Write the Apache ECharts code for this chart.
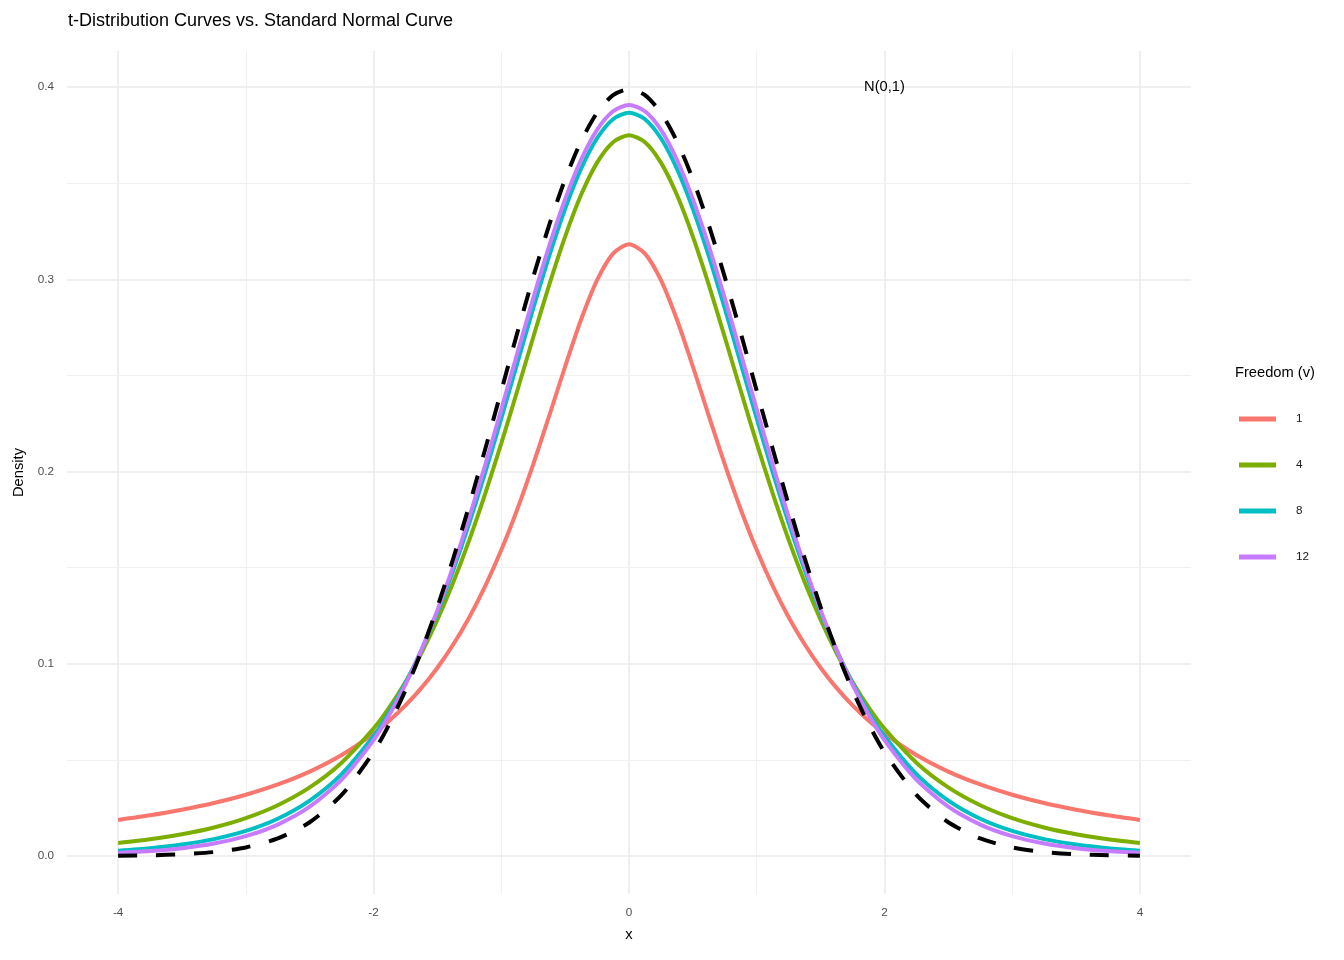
<!DOCTYPE html>
<html>
<head>
<meta charset="utf-8">
<script src="https://cdn.jsdelivr.net/npm/echarts@6/dist/echarts.min.js"></script>
<style>html,body{margin:0;padding:0;background:#fff;}#c{width:1344px;height:960px;}</style>
</head>
<body>
<div id="c"></div>
<script>
const xValues = [-4,-3.75,-3.5,-3.25,-3,-2.75,-2.5,-2.25,
  -2,-1.875,-1.75,-1.625,-1.5,-1.375,-1.25,-1.125,-1,-0.875,-0.75,-0.625,-0.5,-0.375,-0.25,-0.125,0,
  0.125,0.25,0.375,0.5,0.625,0.75,0.875,1,1.125,1.25,1.375,1.5,1.625,1.75,1.875,2,
  2.25,2.5,2.75,3,3.25,3.5,3.75,4];
const dens1 = [0.01872,0.02113,0.02402,0.02753,0.03183,0.03718,0.04390,0.05251,
  0.06366,0.07049,0.07835,0.08743,0.09794,0.11012,0.12422,0.14049,0.15915,0.18028,0.20372,0.22890,0.25465,0.27907,0.29959,0.31341,0.31831,
  0.31341,0.29959,0.27907,0.25465,0.22890,0.20372,0.18028,0.15915,0.14049,0.12422,0.11012,0.09794,0.08743,0.07835,0.07049,0.06366,
  0.05251,0.04390,0.03718,0.03183,0.02753,0.02402,0.02113,0.01872];
const dens4 = [0.00671,0.00865,0.01128,0.01483,0.01969,0.02640,0.03567,0.04853,
  0.06629,0.07749,0.09052,0.10560,0.12288,0.14249,0.16444,0.18861,0.21466,0.24204,0.26989,0.29707,0.32226,0.34397,0.36074,0.37136,0.37500,
  0.37136,0.36074,0.34397,0.32226,0.29707,0.26989,0.24204,0.21466,0.18861,0.16444,0.14249,0.12288,0.10560,0.09052,0.07749,0.06629,
  0.04853,0.03567,0.02640,0.01969,0.01483,0.01128,0.00865,0.00671];
const dens8 = [0.00276,0.00402,0.00592,0.00876,0.01301,0.01936,0.02878,0.04257,
  0.06237,0.07507,0.08994,0.10713,0.12677,0.14886,0.17326,0.19968,0.22761,0.25630,0.28483,0.31204,0.33670,0.35754,0.37339,0.38332,0.38670,
  0.38332,0.37339,0.35754,0.33670,0.31204,0.28483,0.25630,0.22761,0.19968,0.17326,0.14886,0.12677,0.10713,0.08994,0.07507,0.06237,
  0.04257,0.02878,0.01936,0.01301,0.00876,0.00592,0.00402,0.00276];
const dens12 = [0.00159,0.00253,0.00404,0.00645,0.01028,0.01631,0.02561,0.03965,
  0.06023,0.07355,0.08917,0.10725,0.12787,0.15096,0.17634,0.20362,0.23223,0.26139,0.29011,0.31728,0.34172,0.36223,0.37776,0.38744,0.39073,
  0.38744,0.37776,0.36223,0.34172,0.31728,0.29011,0.26139,0.23223,0.20362,0.17634,0.15096,0.12787,0.10725,0.08917,0.07355,0.06023,
  0.03965,0.02561,0.01631,0.01028,0.00645,0.00404,0.00253,0.00159];
const densNormal = [0.00013,0.00035,0.00087,0.00203,0.00443,0.00909,0.01753,0.03174,
  0.05399,0.06879,0.08628,0.10654,0.12952,0.15501,0.18265,0.21188,0.24197,0.27205,0.30114,0.32816,0.35207,0.37186,0.38667,0.39584,0.39894,
  0.39584,0.38667,0.37186,0.35207,0.32816,0.30114,0.27205,0.24197,0.21188,0.18265,0.15501,0.12952,0.10654,0.08628,0.06879,0.05399,
  0.03174,0.01753,0.00909,0.00443,0.00203,0.00087,0.00035,0.00013];
const seriesNames = ['1','4','8','12'];
const xTicks = [-4,-2,0,2,4];
const xMinorTicks = [-3,-1,1,3];
const yTicks = [0,0.1,0.2,0.3,0.4];
const yMinorTicks = [0.05,0.15,0.25,0.35];
const annotation = {text:'N(0,1)', x:2, y:0.4};

const colors = ['#F8766D','#7CAE00','#00BFC4','#C77CFF'];
const FONT = 'Liberation Sans, Arial, sans-serif';
const pair = ys => xValues.map((x,i)=>[x, ys[i]]);
const tSets = [dens1, dens4, dens8, dens12];

const chart = echarts.init(document.getElementById('c'));
const series = [
  {type:'line', data:[], silent:true, z:0,
   markLine:{silent:true, z:0, symbol:'none', label:{show:false}, animation:false,
     lineStyle:{color:'#EBEBEB', type:'solid', width:1.6},
     data: xTicks.map(v=>({xAxis:v})).concat(yTicks.map(v=>({yAxis:v})))}},
  {type:'line', data:[], silent:true, z:0,
   markLine:{silent:true, z:0, symbol:'none', label:{show:false}, animation:false,
     lineStyle:{color:'#F0F0F0', type:'solid', width:1},
     data: xMinorTicks.map(v=>({xAxis:v})).concat(yMinorTicks.map(v=>({yAxis:v})))}}
];
tSets.forEach((d,i)=>{
  series.push({name:seriesNames[i], type:'line', data:pair(d), smooth:0.25, showSymbol:false,
    lineStyle:{color:colors[i], width:4}, itemStyle:{color:colors[i]}, z:2+i});
});
series.push({name:'N(0,1)', type:'line', data:pair(densNormal), smooth:0.25, showSymbol:false,
  lineStyle:{color:'#000', width:4, type:[19,19], cap:'butt'}, itemStyle:{color:'#000'}, z:10,
  markPoint:{symbol:'circle', symbolSize:0, silent:true, animation:false, z:11,
    label:{show:true, position:'inside', formatter:annotation.text, color:'#000', fontSize:14.7, fontFamily:FONT},
    data:[{coord:[annotation.x, annotation.y]}]}});

chart.setOption({
  animation:false,
  backgroundColor:'#fff',
  textStyle:{fontFamily:FONT},
  title:{text:'t-Distribution Curves vs. Standard Normal Curve', left:68, top:12, padding:0,
    textStyle:{fontSize:18, fontWeight:'normal', color:'#000', fontFamily:FONT}},
  grid:{left:67, right:153, top:51, bottom:66, containLabel:false},
  xAxis:{type:'value', min:-4.4, max:4.4, name:'x', nameLocation:'middle', nameGap:33,
    nameTextStyle:{fontSize:14.7, color:'#000', fontFamily:FONT},
    axisLine:{show:false}, axisTick:{show:false}, splitLine:{show:false},
    axisLabel:{customValues:xTicks, color:'#4D4D4D', fontSize:11.7, margin:13, fontFamily:FONT}},
  yAxis:{type:'value', min:-0.0198, max:0.4188, name:'Density', nameLocation:'middle', nameGap:39, nameRotate:90,
    nameTextStyle:{fontSize:14.7, color:'#000', fontFamily:FONT},
    axisLine:{show:false}, axisTick:{show:false}, splitLine:{show:false},
    axisLabel:{customValues:yTicks, color:'#4D4D4D', fontSize:11.7, margin:13, fontFamily:FONT,
      formatter:v=>v.toFixed(1)}},
  legend:{data:seriesNames, orient:'vertical', left:1239, top:412, padding:0, icon:'rect',
    itemWidth:37, itemHeight:5, itemGap:32,
    textStyle:{fontSize:11.7, color:'#1a1a1a', fontFamily:FONT, padding:[0,0,0,15], lineHeight:14}},
  graphic:[{type:'text', left:1235, top:365, style:{text:'Freedom (v)', fontSize:14.7, fill:'#000', fontFamily:FONT}}],
  series:series
});
</script>
</body>
</html>
